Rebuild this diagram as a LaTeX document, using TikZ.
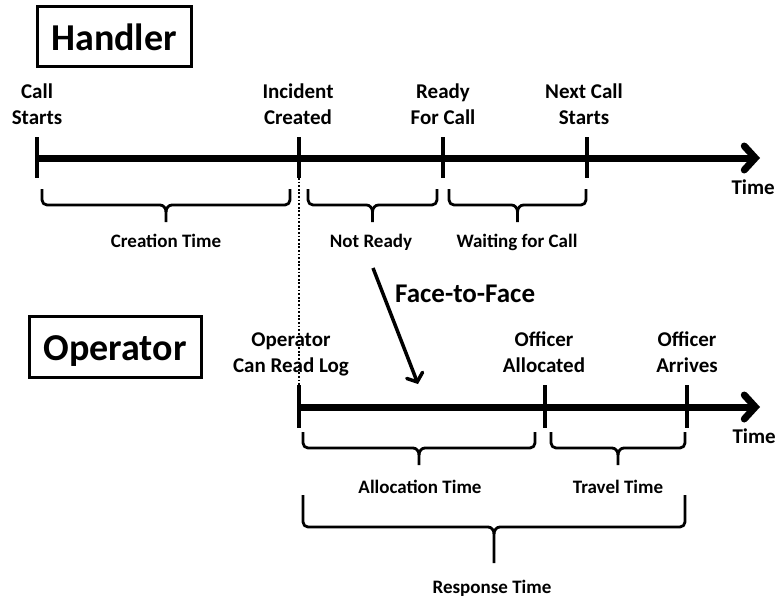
\documentclass[tikz,border=0pt]{standalone}
\usepackage{fontspec}
\setmainfont{Carlito}
\usetikzlibrary{arrows.meta}
\newcommand{\tlbr}[5]{% x1, x2, top, bottom, tip
  \pgfmathsetmacro{\bm}{(#1+#2)/2}
  \pgfmathsetmacro{\bml}{\bm-6}
  \pgfmathsetmacro{\bmr}{\bm+6}
  \pgfmathsetmacro{\bq}{#4+7}
  \draw[bracestyle] (#1,#3) -- (#1,#4-5) to[out=-90,in=180] (#1+5,#4)
    -- (\bml,#4) to[out=0,in=90] (\bm,\bq) -- (\bm,#5);
  \draw[bracestyle] (\bm,\bq) to[out=90,in=180] (\bmr,#4)
    -- (#2-5,#4) to[out=0,in=-90] (#2,#4-5) -- (#2,#3);
}
\tikzset{
  bracestyle/.style={line width=2.8pt, line join=round},
  tl/.style={line width=7pt, -{Straight Barb[length=11pt,width=24pt,line cap=round]}},
  tick/.style={line width=4pt},
  ticklbl/.style={font=\bfseries\fontsize{21}{26}\selectfont, align=center, inner sep=0pt, text depth=0pt, anchor=south},
  brlbl/.style={font=\bfseries\fontsize{19}{20}\selectfont, inner sep=0pt, anchor=base},
  title/.style={draw, line width=3pt, font=\bfseries\fontsize{38}{44}\selectfont, inner sep=0pt, text height=28pt, text depth=0pt},
}
\begin{document}
\begin{tikzpicture}[x=1pt,y=-1pt]
\useasboundingbox (0,0) rectangle (778,599);
% titles
\node[title, minimum width=154pt, minimum height=60pt] (handler) at (114,37) {Handler};
\node[title, minimum width=172pt, minimum height=61pt] (operator) at (115,346.5) {Operator};

% top timeline
\coordinate (t0) at (37,158);
\coordinate (tend) at (760,158);
\draw[tl] (t0) -- (tend);
\foreach \n/\x in {a/37,b/299,c/443,d/587}{
  \coordinate (ht\n) at (\x,137);
  \coordinate (hb\n) at (\x,178);
  \draw[tick] (ht\n) -- (hb\n);
}
\node[ticklbl] (l1) at (37,125) {Call\\Starts};
\node[ticklbl] (l2) at (298,125) {Incident\\Created};
\node[ticklbl] (l3) at (443,125) {Ready\\For Call};
\node[ticklbl] (l4) at (584,125) {Next Call\\Starts};
\node[ticklbl, anchor=south east] (time1) at (775,195) {Time};

\tlbr{42}{290}{189}{205}{222}
\tlbr{308}{437}{189}{205}{222}
\tlbr{449}{586}{189}{205}{222}
\node[brlbl] (b1) at (166,247) {Creation Time};
\node[brlbl] (b2) at (371,247) {Not Ready};
\node[brlbl] (b3) at (517,247) {Waiting for Call};

% bottom timeline
\coordinate (o0) at (299,407);
\coordinate (oend) at (760,407);
\draw[tl] (o0) -- (oend);
\foreach \n/\x in {a/299,b/545,c/687}{
  \coordinate (ot\n) at (\x,385);
  \coordinate (ob\n) at (\x,428);
  \draw[tick] (ot\n) -- (ob\n);
}
\node[ticklbl] (m1) at (291,373) {Operator\\Can Read Log};
\node[ticklbl] (m2) at (544,373) {Officer\\Allocated};
\node[ticklbl] (m3) at (687,373) {Officer\\Arrives};
\node[ticklbl, anchor=south east] (time2) at (776,444) {Time};

\tlbr{303}{535}{432}{448}{465}
\tlbr{551}{685}{432}{448}{465}
\tlbr{303}{685}{495}{527}{563}
\node[brlbl] (c1) at (420,493) {Allocation Time};
\node[brlbl] (c2) at (618,493) {Travel Time};
\node[brlbl] (c3) at (492,593) {Response Time};

% dotted link
\draw[line width=1.8pt, dash pattern=on 1.8pt off 1.8pt] (hbb) -- (ota);

% face-to-face arrow
\coordinate (fs) at (373,268);
\coordinate (fe) at (418,384);
\draw[line width=3.5pt, -{Straight Barb[length=7pt,width=17pt,line cap=round]}] (fs) -- (fe);
\node[font=\bfseries\fontsize{27}{28}\selectfont, inner sep=0pt, anchor=base west] (f2f) at (395,302) {Face-to-Face};
\end{tikzpicture}
\end{document}
